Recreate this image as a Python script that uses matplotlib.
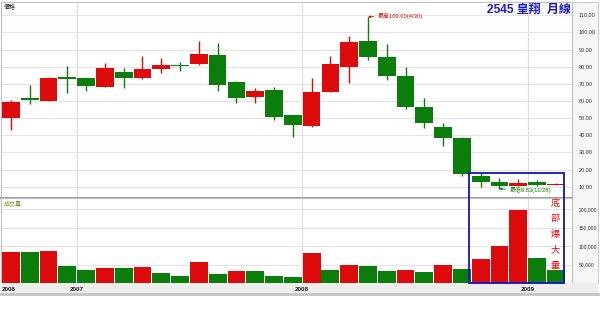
import matplotlib.pyplot as plt
from matplotlib.patches import Rectangle
from matplotlib.transforms import blended_transform_factory

plt.rcParams['font.family'] = ['Liberation Sans', 'Noto Sans CJK TC', 'DejaVu Sans']

# monthly candles, 2006-09 .. 2009-02
opens = [50.0, 61.5, 60.2, 73.8, 73.2, 68.3, 76.9, 73.6, 78.8, 81.2,
         81.6, 86.7, 71.1, 62.5, 66.6, 51.8, 45.4, 65.1, 80.0, 95.0,
         85.8, 74.6, 56.7, 44.6, 38.6, 16.4, 12.5, 10.6, 12.7, 10.9]
highs = [60.6, 69.3, 73.8, 80.4, 73.5, 82.3, 79.0, 86.3, 85.3, 82.9,
         95.2, 94.0, 71.8, 67.8, 68.0, 52.0, 73.2, 86.3, 97.9, 109.0,
         93.3, 79.7, 61.6, 47.0, 39.0, 18.2, 14.9, 14.5, 13.9, 12.3]
lows = [43.0, 58.2, 60.0, 64.5, 66.0, 68.0, 67.4, 72.7, 76.2, 77.7,
        80.8, 66.0, 59.0, 59.0, 48.9, 39.2, 45.0, 65.0, 70.7, 83.9,
        72.3, 55.5, 44.2, 33.7, 16.4, 9.6, 8.83, 10.4, 10.5, 10.8]
closes = [59.6, 60.5, 73.2, 72.7, 68.8, 79.4, 73.6, 78.8, 81.0, 80.4,
          87.6, 69.2, 61.9, 65.8, 50.5, 46.0, 65.1, 81.6, 94.6, 85.8,
          74.6, 56.7, 47.0, 38.6, 17.4, 12.5, 10.6, 12.3, 10.8, 11.2]

volumes = [85400, 83800, 87300, 46800, 36000, 41400, 39500, 44000, 26000, 19800,
           57600, 23300, 31400, 31400, 17800, 17000, 82700, 36000, 49500, 44900,
           31400, 34000, 28600, 49500, 38600, 65700, 100800, 198000, 67600, 34000]
vol_up = [1, 0, 1, 0, 0, 1, 0, 1, 0, 0, 1, 0, 1, 0, 0, 0, 1, 0, 1, 0,
          0, 1, 0, 1, 0, 1, 1, 1, 0, 0]

years = ['2006', '2007', '2008', '2009']
year_idx = [-0.5, 3.5, 15.5, 27.5]
price_ticks = [10, 20, 30, 40, 50, 60, 70, 80, 90, 100, 110]
vol_ticks = [50000, 100000, 150000, 200000]

title = '2545 皇翔  月線'
high_note = '最高109.00(4/30)'
low_note = '最低8.83(11/28)'
note = '底部爆大量'

RED = '#dc0a0a'
GREEN = '#0a7d0a'
GRID = '#e4e4e4'

W, H = 600, 312


def box(x0, y0, x1, y1):
    return [x0 / W, 1 - y1 / H, (x1 - x0) / W, (y1 - y0) / H]


fig = plt.figure(figsize=(6, 3.12), dpi=100)
fig.patches.append(Rectangle((572 / W, 1 - 283 / H), 26 / W, 281 / H,
                             transform=fig.transFigure, facecolor='#f6f6f6',
                             edgecolor='#cccccc', lw=0.8, zorder=-5))
ax_p = fig.add_axes(box(1, 2, 572, 198))
ax_v = fig.add_axes(box(1, 198, 572, 283))
ax_d = fig.add_axes(box(1, 283, 598, 294))

x = list(range(len(opens)))
up = [c >= o for o, c in zip(opens, closes)]
cols = [RED if u else GREEN for u in up]
bottoms = [min(o, c) for o, c in zip(opens, closes)]
heights = [max(abs(c - o), 0.7) for o, c in zip(opens, closes)]

ax_p.vlines(x, lows, highs, colors=cols, lw=1, zorder=2)
ax_p.bar(x, heights, bottom=bottoms, width=0.94, color=cols, zorder=3)

vcols = [RED if u else GREEN for u in vol_up]
ax_v.bar(x, volumes, width=0.95, color=vcols, zorder=3)

for ax in (ax_p, ax_v):
    ax.set_xlim(-0.53, 29.86)
    ax.set_xticks([])
    for yr in year_idx[1:]:
        ax.axvline(yr, color='#dcdcdc', lw=0.8, zorder=1)
    ax.yaxis.tick_right()
    ax.tick_params(axis='y', length=0, pad=5, labelsize=4.0, labelcolor='#333333')
    ax.grid(axis='y', color=GRID, lw=0.8, zorder=0)
    for s in ax.spines.values():
        s.set_color('#c0c0c0')
        s.set_linewidth(0.8)

ax_p.set_ylim(3.4, 117.8)
ax_p.set_yticks(price_ticks)
ax_p.set_yticklabels([f'{v:.2f}' for v in price_ticks])
ax_p.spines['bottom'].set_color('#a0a0a0')
ax_p.spines['bottom'].set_linewidth(1.5)

ax_v.set_ylim(0, 230500)
ax_v.set_yticks(vol_ticks)
ax_v.set_yticklabels([f'{v:,}' for v in vol_ticks])
ax_v.tick_params(axis='y', pad=5, labelsize=3.6)

ax_d.set_facecolor('#eeeeee')
ax_d.set_xticks([])
ax_d.set_yticks([])
for s in ax_d.spines.values():
    s.set_visible(False)
ax_d.spines['bottom'].set_visible(True)
ax_d.spines['bottom'].set_color('#c4c4c4')
ax_d.spines['bottom'].set_linewidth(2)
tr = blended_transform_factory(ax_v.transData, ax_d.transAxes)
for i, (yr, xi) in enumerate(zip(years, year_idx)):
    ax_d.text(xi + (0.03 if i == 0 else 0), 0.45, yr, transform=tr,
              ha='left' if i == 0 else 'center', va='center',
              fontsize=4.6, fontweight='bold', color='#222222')

# high / low annotations
ax_p.annotate(high_note, xy=(19, 109.0), xytext=(10, 1), textcoords='offset pixels',
              ha='left', va='center', fontsize=4.2, color=RED, zorder=5,
              arrowprops=dict(arrowstyle='-|>', color=RED, lw=0.6,
                              mutation_scale=3, relpos=(0, 0.5),
                              shrinkA=1, shrinkB=0))
ax_p.annotate(low_note, xy=(26, 8.83), xytext=(10, -1), textcoords='offset pixels',
              ha='left', va='center', fontsize=4.2, color=GREEN, zorder=5,
              arrowprops=dict(arrowstyle='-|>', color=GREEN, lw=0.6,
                              mutation_scale=3, relpos=(0, 0.5),
                              shrinkA=1, shrinkB=0))

fig.text(571 / W, 1 - 10 / H, title, ha='right', va='center', fontsize=8.6,
         fontweight='bold', color='#1a1acc')
fig.text(4 / W, 1 - 7 / H, '價格', ha='left', va='center', fontsize=4.3, color='#222222')
fig.text(4 / W, 1 - 203 / H, '成交量', ha='left', va='center', fontsize=4.3, color='#7a9a2a')

for i, ch in enumerate(note):
    fig.text(555 / W, 1 - (203 + i * 15.6) / H, ch, ha='center', va='center',
             fontsize=6.6, color='#e01010')

# blue box around the bottom months, spanning both panels
inv = fig.transFigure.inverted()
x0, y0 = inv.transform(ax_v.transData.transform((24.4, 0)))
x1, y1 = inv.transform(ax_p.transData.transform((29.45, 17.9)))
fig.patches.append(Rectangle((x0, y0), x1 - x0, y1 - y0, transform=fig.transFigure,
                             fill=False, edgecolor='#1010cc', lw=1.3, zorder=10))

fig.savefig('out.png', dpi=100, facecolor='white')
